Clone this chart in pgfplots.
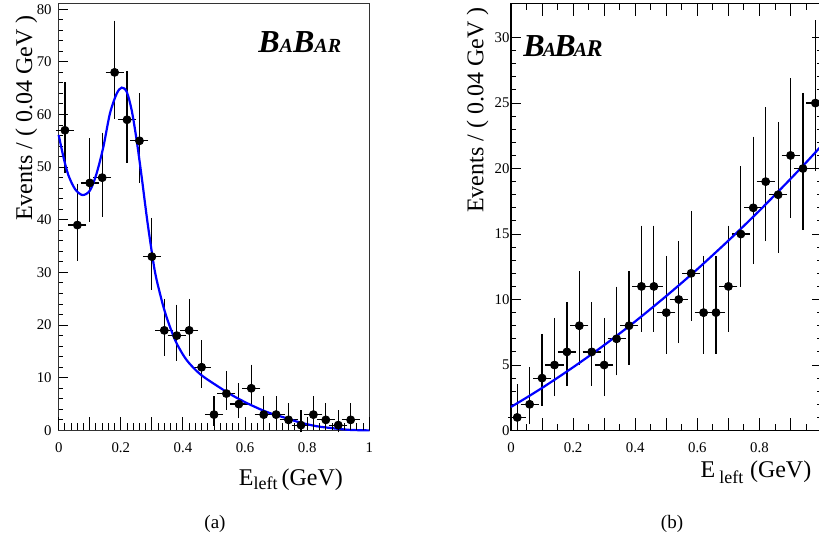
\documentclass[border=0pt]{standalone}
\usepackage{pgfplots}
\usepackage{pgfplotstable}
\pgfplotsset{compat=1.18}
\usepackage{fontspec}
\setmainfont{Liberation Serif}

\pgfplotstableread{
x y ep em
0.02 57 8.62 7.55
0.06 39 7.32 6.24
0.10 47 7.93 6.86
0.14 48 8.00 6.93
0.18 68 9.31 8.25
0.22 59 8.75 7.68
0.26 55 8.48 7.42
0.30 33 6.83 5.74
0.34 19 5.45 4.33
0.38 18 5.34 4.21
0.42 19 5.45 4.33
0.46 12 4.56 3.41
0.50 3 2.92 1.63
0.54 7 3.77 2.58
0.58 5 3.38 2.16
0.62 8 3.95 2.77
0.66 3 2.92 1.63
0.70 3 2.92 1.63
0.74 2 2.64 1.29
0.78 1 2.30 0.83
0.82 3 2.92 1.63
0.86 2 2.64 1.29
0.90 1 2.30 0.83
0.94 2 2.64 1.29
}\dataA

\pgfplotstableread{
x y
0.000 56.1
0.015 52.0
0.031 48.5
0.053 45.8
0.077 44.7
0.101 45.6
0.122 48.8
0.144 53.9
0.165 60.2
0.187 64.0
0.203 65.1
0.219 64.3
0.235 60.8
0.251 55.1
0.267 48.2
0.285 39.9
0.302 33.0
0.313 29.2
0.337 23.5
0.358 19.7
0.380 16.5
0.412 13.35
0.455 10.7
0.509 8.5
0.562 6.55
0.616 4.9
0.670 3.5
0.723 2.5
0.777 1.5
0.830 0.8
0.884 0.4
0.937 0.1
1.000 0.0
}\fitA

\pgfplotstableread{
x y ep em
0.02 1 2.30 0.83
0.06 2 2.64 1.29
0.10 4 3.16 1.91
0.14 5 3.38 2.16
0.18 6 3.58 2.38
0.22 8 3.95 2.77
0.26 6 3.58 2.38
0.30 5 3.38 2.16
0.34 7 3.77 2.58
0.38 8 3.95 2.77
0.42 11 4.42 3.26
0.46 11 4.42 3.26
0.50 9 4.11 2.94
0.54 10 4.27 3.11
0.58 12 4.56 3.41
0.62 9 4.11 2.94
0.66 9 4.11 2.94
0.70 11 4.42 3.26
0.74 15 4.96 3.83
0.78 17 5.22 4.09
0.82 19 5.45 4.33
0.86 18 5.34 4.21
0.90 21 5.68 4.56
0.94 20 5.57 4.45
0.98 25 6.11 4.98
}\dataB

\pgfplotstableread{
x y
0.00 1.80
0.05 2.51
0.10 3.25
0.15 4.03
0.20 4.83
0.25 5.66
0.30 6.52
0.35 7.41
0.40 8.33
0.45 9.29
0.50 10.27
0.55 11.28
0.60 12.32
0.65 13.40
0.70 14.50
0.75 15.63
0.80 16.79
0.85 17.99
0.90 19.21
0.95 20.46
1.00 21.75
}\fitB

\pgfplotsset{
  base/.style={
    scale only axis, width=155.3pt, height=213.5pt, anchor=south west,
    xmin=0, xmax=1, ymin=0,
    tick align=inside,
    axis line style={line width=0.75pt},
    tick style={line width=0.5pt, black},
    /pgf/number format/assume math mode=true,
    tick label style={font=\fontsize{7.4}{8}\selectfont},
    xticklabel style={yshift=-2.5pt},
    clip=false,
  },
  datastyle/.style={
    only marks, mark=*, mark size=2pt, black, mark options={fill=black, draw=black},
    error bars/.cd, x dir=both, x fixed=0.02, y dir=both, y explicit,
    error bar style={line width=0.6pt, black},
    error mark options={line width=0.6pt, mark size=1.4pt, black},
  },
  fitstyle/.style={no marks, smooth, blue, line width=1.1pt},
}

\begin{document}
\begin{tikzpicture}[x=0.5pt,y=0.5pt]
\useasboundingbox (0,0) rectangle (819,558);
\clip (0,0) rectangle (819,558);

% ---------- panel (a) ----------
\begin{axis}[base, at={(29.35pt,63.8pt)}, ymax=81.1,
  xtick=\empty, ytick={0,10,20,30,40,50,60,70,80}, minor y tick num=4,
  ytick pos=left, major tick length=4.5pt, minor tick length=2.35pt,
  axis line style={line width=0.75pt, black!80}]
\addplot[datastyle] table[x=x, y=y, y error plus=ep, y error minus=em] {\dataA};
\addplot[fitstyle] table[x=x,y=y] {\fitA};
\end{axis}
\begin{axis}[base, at={(29.35pt,63.8pt)}, ymax=81.1,
  ytick=\empty, xtick={0,0.1,0.2,0.3,0.4,0.5,0.6,0.7,0.8,0.9,1},
  xticklabels={0,,0.2,,0.4,,0.6,,0.8,,1}, minor x tick num=4,
  xtick pos=bottom, major tick length=6.5pt, minor tick length=3.5pt,
  axis line style={draw=none}]
\end{axis}

% ---------- panel (b) ----------
\begin{axis}[base, at={(255.5pt,63.75pt)}, ymax=32.6,
  xtick=\empty, ytick={0,5,10,15,20,25,30}, minor y tick num=4,
  yticklabel style={inner xsep=0.6pt},
  major tick length=5pt, minor tick length=2.5pt]
\addplot[datastyle] table[x=x, y=y, y error plus=ep, y error minus=em] {\dataB};
\addplot[fitstyle] table[x=x,y=y] {\fitB};
\end{axis}
\begin{axis}[base, at={(255.5pt,63.75pt)}, ymax=32.6,
  ytick=\empty, xtick={0,0.1,0.2,0.3,0.4,0.5,0.6,0.7,0.8,0.9,1},
  xticklabels={0,,0.2,,0.4,,0.6,,0.8,,}, minor x tick num=1,
  major tick length=6.5pt, minor tick length=3.5pt,
  axis line style={draw=none}]
\end{axis}

% ---------- texts ----------
\node[rotate=90, anchor=base east, inner sep=0pt, font=\fontsize{12}{14}\selectfont] at (32,543) {Events / ( 0.04 GeV )};
\node[rotate=90, anchor=base east, inner sep=0pt, font=\fontsize{12}{14}\selectfont] at (483.3,551) {Events / ( 0.04 GeV )};

\node[anchor=base east, inner sep=0pt, font=\fontsize{12}{14}\selectfont] at (343.3,73)
  {E\raisebox{-2pt}{\fontsize{9}{10}\selectfont left}\,(GeV)};
\node[anchor=base east, inner sep=0pt, font=\fontsize{12}{14}\selectfont] at (811.7,81)
  {E\,\raisebox{-3pt}{\fontsize{9}{10}\selectfont left}\;(GeV)};

\node[anchor=base, inner sep=0pt, font=\fontsize{9.5}{11}\selectfont] at (215,30) {(a)};
\node[anchor=base, inner sep=0pt, font=\fontsize{9.5}{11}\selectfont] at (672,30) {(b)};

\node[anchor=base west, inner sep=0pt, font=\bfseries\itshape] at (258,505.3)
  {{\fontsize{16}{16}\selectfont B}{\fontsize{10}{10}\selectfont A}{\fontsize{16}{16}\selectfont B}{\fontsize{10}{10}\selectfont AR}};
\node[anchor=base west, inner sep=0pt, font=\bfseries\itshape] at (523,501.3)
  {{\fontsize{16}{16}\selectfont B}\kern-1pt{\fontsize{10}{10}\selectfont A}\kern-0.8pt{\fontsize{16}{16}\selectfont B}\kern-1pt{\fontsize{10}{10}\selectfont A}\kern-0.3pt{\fontsize{12}{12}\selectfont R}};
\end{tikzpicture}
\end{document}
